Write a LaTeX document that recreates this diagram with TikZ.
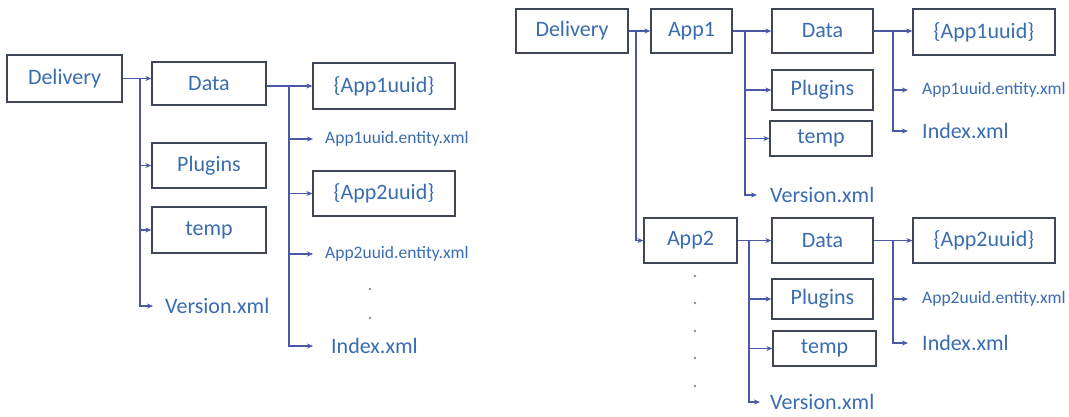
\documentclass[tikz,border=0pt]{standalone}
\usepackage{fontspec}
\setmainfont{Carlito}
\usetikzlibrary{arrows.meta}
\definecolor{txtblue}{HTML}{3A6DB0}
\definecolor{lineblue}{HTML}{4A58A6}
\definecolor{boxgray}{HTML}{3F4656}
\definecolor{dotgray}{HTML}{8A8A8A}
\tikzset{
  box/.style={draw=boxgray, line width=1.3pt, text=txtblue, inner sep=0pt,
    font=\fontsize{22}{26}\selectfont, align=center},
  lbl/.style={text=txtblue, anchor=west, inner ysep=2pt, inner xsep=12pt,
    font=\fontsize{22}{26}\selectfont},
  slbl/.style={lbl, font=\fontsize{17.5}{20}\selectfont},
  arr/.style={draw=lineblue, line width=1.2pt, -{Stealth[length=6pt,width=5pt]}},
  ln/.style={draw=lineblue, line width=1.2pt},
  dotn/.style={circle, fill=dotgray, inner sep=0pt, minimum size=2.6pt}
}
\begin{document}
\begin{tikzpicture}[x=1pt,y=-1pt]
\useasboundingbox[fill=white] (0,0) rectangle (1069,416);
% ---------------- left diagram ----------------
\node[box, minimum width=115pt, minimum height=47pt] (del) at (64.5,78.5) {Delivery};
\node[box, minimum width=114pt, minimum height=43pt] (data) at (209,83.5) {Data};
\node[box, minimum width=114pt, minimum height=45pt] (plug) at (209,165.5) {Plugins};
\node[box, minimum width=114pt, minimum height=46pt] (temp) at (209,230) {temp};
\node[lbl] (ver) at (153,306) {Version.xml};
\node[box, minimum width=142pt, minimum height=46pt] (u1) at (384,86) {\{App1uuid\}};
\node[box, minimum width=142pt, minimum height=45pt] (u2) at (384,193.5) {\{App2uuid\}};
\node[slbl] (ent1) at (313,139) {App1uuid.entity.xml};
\node[slbl] (ent2) at (313,254) {App2uuid.entity.xml};
\node[lbl, inner xsep=18pt] (ind) at (313,346) {Index.xml};
\node[dotn] (d1) at (370,289) {};
\node[dotn] (d2) at (370,318) {};
\coordinate (j1) at (140,79);
\coordinate (j2) at (289,86);
\draw[arr] (del.east) -- (data.west |- del.east);
\draw[arr] (j1) |- (plug.west);
\draw[arr] (j1) |- (temp.west);
\draw[arr] (j1) |- (ver.west);
\draw[arr] (data.east |- u1.west) -- (u1.west);
\draw[arr] (j2) |- (ent1.west);
\draw[arr] (j2) |- (u2.west);
\draw[arr] (j2) |- (ent2.west);
\draw[arr] (j2) |- (ind.west);
% ---------------- right diagram ----------------
\node[box, minimum width=112pt, minimum height=44pt] (rdel) at (572,31) {Delivery};
\node[box, minimum width=81pt, minimum height=44pt] (app1) at (691.5,31) {App1};
\node[box, minimum width=101pt, minimum height=44pt] (rdata1) at (822.5,31) {Data};
\node[box, minimum width=101pt, minimum height=40pt] (rplug1) at (822.5,90) {Plugins};
\node[box, minimum width=102pt, minimum height=35pt] (rtemp1) at (821,138.5) {temp};
\node[lbl, inner xsep=13pt] (rver1) at (757,195) {Version.xml};
\node[box, minimum width=142pt, minimum height=46pt] (ru1) at (984,32) {\{App1uuid\}};
\node[slbl, inner xsep=14pt] (rent1) at (908,90) {App1uuid.entity.xml};
\node[lbl, inner xsep=14pt] (rind1) at (908,131) {Index.xml};
\node[box, minimum width=93pt, minimum height=45pt] (app2) at (690.5,240.5) {App2};
\node[box, minimum width=101pt, minimum height=45pt] (rdata2) at (822.5,240.5) {Data};
\node[box, minimum width=101pt, minimum height=40pt] (rplug2) at (822.5,299) {Plugins};
\node[box, minimum width=103pt, minimum height=35pt] (rtemp2) at (824.5,348.5) {temp};
\node[lbl, inner xsep=10pt] (rver2) at (760,402) {Version.xml};
\node[box, minimum width=142pt, minimum height=45pt] (ru2) at (984,240.5) {\{App2uuid\}};
\node[slbl, inner xsep=14pt] (rent2) at (908,299) {App2uuid.entity.xml};
\node[lbl, inner xsep=14pt] (rind2) at (908,343) {Index.xml};
\node[dotn] (e1) at (695,276) {};
\node[dotn] (e2) at (695,303) {};
\node[dotn] (e3) at (695,331) {};
\node[dotn] (e4) at (695,358) {};
\node[dotn] (e5) at (695,386) {};
\coordinate (k1) at (636,31);
\coordinate (k2) at (745,31);
\coordinate (k3) at (893,31);
\coordinate (k4) at (749,240.5);
\coordinate (k5) at (893,240.5);
\draw[arr] (rdel.east) -- (app1.west);
\draw[arr] (k1) |- (app2.west);
\draw[arr] (app1.east) -- (rdata1.west);
\draw[arr] (k2) |- (rplug1.west);
\draw[arr] (k2) |- (rtemp1.west);
\draw[arr] (k2) |- (rver1.west);
\draw[arr] (rdata1.east) -- (ru1.west |- rdata1.east);
\draw[arr] (k3) |- (rent1.west);
\draw[arr] (k3) |- (rind1.west);
\draw[arr] (app2.east) -- (rdata2.west);
\draw[arr] (k4) |- (rplug2.west);
\draw[arr] (k4) |- (rtemp2.west);
\draw[arr] (k4) |- (rver2.west);
\draw[arr] (rdata2.east) -- (ru2.west);
\draw[arr] (k5) |- (rent2.west);
\draw[arr] (k5) |- (rind2.west);
\end{tikzpicture}
\end{document}
